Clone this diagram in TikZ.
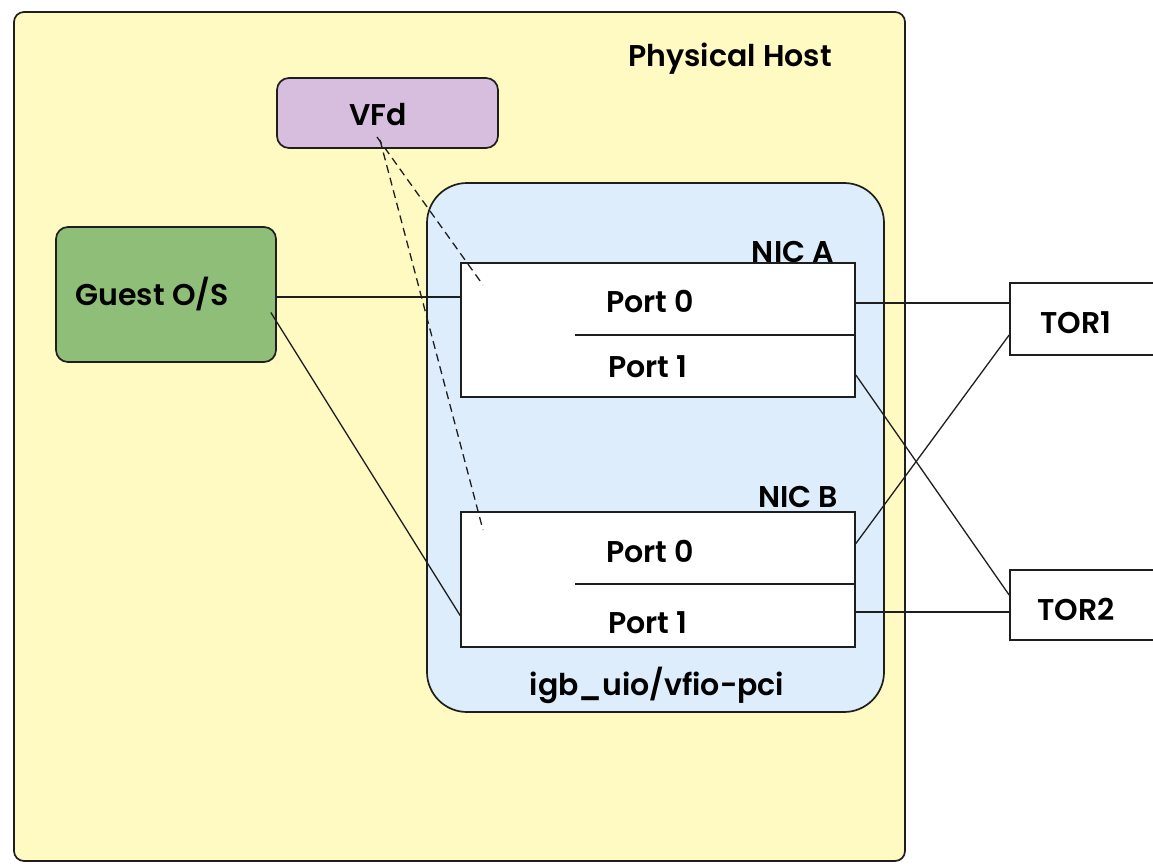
\documentclass[tikz,border=0pt]{standalone}
\usepackage{fontspec}
\setmainfont{Poppins}[UprightFont={Poppins SemiBold}]
\usetikzlibrary{calc}
\definecolor{hostyellow}{RGB}{255,249,194}
\definecolor{vfdpurple}{RGB}{216,190,222}
\definecolor{guestgreen}{RGB}{143,190,121}
\definecolor{nicblue}{RGB}{221,237,252}
\definecolor{edge}{RGB}{30,30,30}
\tikzset{
  box/.style={draw=edge, line width=1.7pt, inner sep=0pt, anchor=center},
  lbl/.style={inner sep=0pt, anchor=base, font=\fontsize{30}{34}\selectfont, text=black},
  wire/.style={draw=edge, line width=1.3pt},
  vwire/.style={draw=edge, line width=1.3pt, dash pattern=on 8pt off 5pt},
}
\begin{document}
\begin{tikzpicture}[x=1pt,y=-1pt]
\useasboundingbox (0,0) rectangle (1153,864);
\clip (0,0) rectangle (1153,864);
\fill[white] (0,0) rectangle (1153,864);
% containers
\node[box, fill=hostyellow, rounded corners=10pt, minimum width=891pt, minimum height=849pt] (host) at (459.5,436.5) {};
\node[box, fill=vfdpurple, rounded corners=12pt, minimum width=221pt, minimum height=70pt] (vfd) at (387.5,113) {};
\node[box, fill=guestgreen, rounded corners=12pt, minimum width=220pt, minimum height=135pt] (guest) at (166,294.5) {};
\node[box, fill=nicblue, rounded corners=40pt, minimum width=457pt, minimum height=529pt] (drv) at (655.5,447.5) {};
\node[box, fill=white, minimum width=394pt, minimum height=134pt] (nica) at (658,330) {};
\node[box, fill=white, minimum width=394pt, minimum height=135pt] (nicb) at (658,579.5) {};
\node[box, fill=white, minimum width=155pt, minimum height=72pt] (tor1) at (1087.5,319) {};
\node[box, fill=white, minimum width=155pt, minimum height=70pt] (tor2) at (1087.5,605) {};
% port dividers
\coordinate (nicadiv) at (575,335);
\coordinate (nicbdiv) at (575,584);
\draw[wire, line width=1.6pt] (nicadiv) -- (nicadiv -| nica.east);
\draw[wire, line width=1.6pt] (nicbdiv) -- (nicbdiv -| nicb.east);
% labels
\node[lbl] (hostlbl) at (730,67) {Physical Host};
\node[lbl] (vfdlbl) at (378,125) {VFd};
\node[lbl] (guestlbl) at (152,305) {Guest O/S};
\node[lbl] (nicalbl) at (793,262) {NIC A};
\node[lbl] (nicblbl) at (798,507) {NIC B};
\node[lbl] (pa0) at (650,312) {Port 0};
\node[lbl] (pa1) at (648,377) {Port 1};
\node[lbl] (pb0) at (650,562) {Port 0};
\node[lbl] (pb1) at (648,633) {Port 1};
\node[lbl] (drvlbl) at (657,695) {igb\_uio/vfio-pci};
\node[lbl] (tor1lbl) at (1076,333) {TOR1};
\node[lbl] (tor2lbl) at (1076,620) {TOR2};
% connectors
\coordinate (vfdsrc1) at (377,137);
\coordinate (vfdsrc2) at (380,140);
\coordinate (vfdend1) at (483,285);
\coordinate (vfdend2) at (483,530);
\draw[vwire] (vfdsrc1) -- (vfdend1);
\draw[vwire] (vfdsrc2) -- (vfdend2);
\draw[wire] (guest.east |- 0,297) -- (nica.west |- 0,297);
\draw[wire] ($(guest.east)+(-6,18)$) -- ($(nicb.west)+(0,36)$);
\draw[wire] (nica.east |- 0,303) -- (tor1.west |- 0,303);
\draw[wire] ($(nica.east)+(0,45)$) -- ($(tor2.west)+(0,-10)$);
\draw[wire] ($(nicb.east)+(0,-36)$) -- ($(tor1.west)+(0,16)$);
\draw[wire] (nicb.east |- 0,612) -- (tor2.west |- 0,612);
\end{tikzpicture}
\end{document}
